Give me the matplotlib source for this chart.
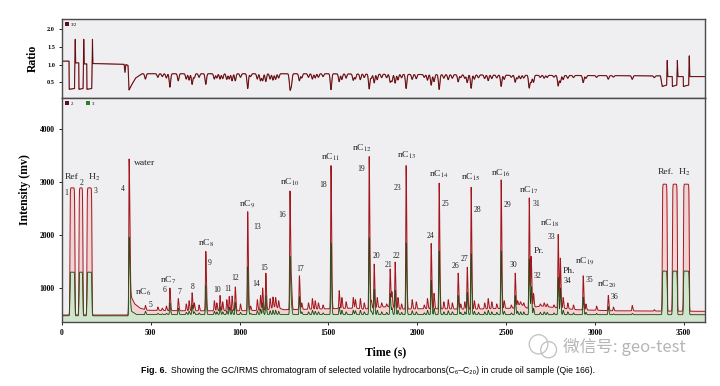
import numpy as np
import matplotlib
matplotlib.use("Agg")
import matplotlib.pyplot as plt
from matplotlib.patches import Patch, Ellipse

plt.rcParams["font.family"] = ["Liberation Serif", "DejaVu Serif"]
plt.rcParams["mathtext.fontset"] = "stix"
plt.rcParams["axes.linewidth"] = 1.0

# reference gas pulses: start/end (s) and plateau heights (mV)
REF_START = [45, 96, 141, 3380, 3437, 3499]
REF_END = [73, 118, 169, 3408, 3465, 3532]
REF_RED = [2890, 2890, 2890, 2960, 2960, 2960]
REF_GREEN = [1300, 1300, 1300, 1320, 1320, 1320]

WATER_TIME = 378
WATER_RED = 3430
WATER_GREEN = 1950

# numbered compound peaks 5..36
PEAK_NUM = [str(n) for n in range(5, 37)]
PEAK_TIME = [470, 608, 655, 733, 810, 890, 942, 976, 1046, 1130, 1148, 1284,
             1337, 1515, 1730, 1758, 1848, 1876, 1938, 2079, 2124, 2231, 2282,
             2304, 2473, 2552, 2631, 2642, 2794, 2806, 2935, 3076]
PEAK_RED = [670, 1000, 800, 910, 1690, 860, 840, 1020, 2440, 1000, 1280, 2830,
            1230, 3310, 3480, 1450, 1360, 1490, 3310, 1840, 2980, 1280, 1390,
            2900, 3040, 1280, 2700, 1580, 2010, 1560, 1230, 860]
PEAK_GREEN = [560, 720, 620, 680, 1050, 650, 640, 730, 1400, 720, 860, 1600,
              840, 1850, 1950, 980, 900, 960, 1850, 1150, 1700, 860, 920,
              1650, 1700, 860, 1550, 1020, 1200, 1000, 830, 650]
PEAK_DIP = [0.15, 0.38, 0.2, 0.3, 0.3, 0.15, 0.15, 0.2, 0.42, 0.2, 0.22, 0.42,
            0.2, 0.45, 0.42, 0.25, 0.22, 0.25, 0.4, 0.3, 0.42, 0.2, 0.22,
            0.38, 0.32, 0.2, 0.36, 0.2, 0.3, 0.2, 0.2, 0.1]

# unlabelled minor peaks
MINOR_TIME = [540, 565, 588, 700, 716, 745, 772, 858, 872, 905,
              928, 958, 1005, 1062, 1100, 1118, 1172, 1188, 1203, 1220,
              1292, 1350, 1388, 1410, 1426, 1444, 1470, 1561, 1576, 1600,
              1640, 1652, 1680, 1702, 1742, 1775, 1800, 1828, 1858, 1892,
              1912, 1972, 1995, 2040, 2058, 2095, 2150, 2175, 2198, 2245,
              2268, 2322, 2345, 2380, 2400, 2420, 2448, 2490, 2530, 2565,
              2582, 2600, 2655, 2693, 2715, 2732, 2770, 2822, 2848, 2880,
              2950, 3010, 3105, 3211, 3335]
MINOR_RED = [640, 620, 660, 700, 760, 720, 680, 760, 720, 740,
             780, 850, 700, 660, 780, 860, 800, 830, 820, 760,
             1050, 720, 720, 800, 760, 720, 680, 950, 820, 740,
             820, 780, 800, 720, 760, 820, 720, 700, 920, 820,
             700, 780, 740, 680, 800, 900, 740, 780, 720, 700,
             740, 760, 700, 720, 800, 740, 700, 760, 680, 760,
             740, 720, 900, 700, 720, 700, 680, 820, 720, 680,
             700, 660, 640, 670, 590]
MINOR_GREEN = [520, 510, 520, 540, 560, 550, 530, 560, 550, 550,
               570, 590, 540, 520, 570, 600, 570, 580, 580, 560,
               680, 550, 550, 580, 560, 550, 530, 640, 580, 550,
               580, 570, 580, 550, 560, 580, 550, 540, 620, 580,
               540, 570, 550, 530, 580, 620, 550, 570, 550, 540,
               550, 560, 540, 550, 580, 550, 540, 560, 530, 560,
               550, 550, 620, 540, 550, 540, 530, 580, 550, 530,
               540, 520, 510, 520, 500]
MINOR_DIP = [0.10, 0.08, 0.12, 0.15, 0.18, 0.12, 0.10, 0.15, 0.12, 0.14,
             0.16, 0.2, 0.1, 0.08, 0.15, 0.2, 0.15, 0.18, 0.16, 0.12,
             0.3, 0.12, 0.1, 0.15, 0.12, 0.1, 0.08, 0.22, 0.16, 0.12,
             0.18, 0.14, 0.16, 0.1, 0.12, 0.16, 0.1, 0.1, 0.2, 0.16,
             0.1, 0.14, 0.12, 0.08, 0.16, 0.2, 0.1, 0.14, 0.1, 0.08,
             0.1, 0.12, 0.08, 0.1, 0.16, 0.1, 0.08, 0.12, 0.06, 0.1,
             0.1, 0.08, 0.2, 0.06, 0.08, 0.06, 0.05, 0.12, 0.08, 0.06,
             0.08, 0.05, 0.04, 0.1, 0.05]

# baselines (mV) and ratio 3/2 level between peaks
RED_BASE_T = [0, 372, 376, 382, 392, 410, 440, 480, 700, 1000, 1150, 1200, 1250,
              1400, 1650, 1700, 1800, 1850, 1900, 2050, 2300, 2550, 2580, 2620,
              2700, 2750, 2900, 3100, 3620]
RED_BASE_V = [490, 490, 700, 1000, 820, 700, 620, 580, 570, 570, 580, 640, 590,
              600, 620, 600, 640, 650, 600, 610, 600, 620, 700, 620,
              660, 640, 590, 570, 560]
GREEN_BASE_T = [0, 372, 380, 392, 420, 3620]
GREEN_BASE_V = [475, 475, 800, 560, 500, 495]
RATIO_T = [0, 40, 41, 71, 73, 75, 77, 95, 96, 119, 121, 123, 125, 140, 141, 168,
           170, 172, 174, 350, 355, 360, 372, 378, 392, 415, 450, 1500, 2500,
           3370, 3380, 3405, 3408, 3411, 3436, 3437, 3462, 3465, 3468, 3498,
           3499, 3529, 3532, 3535, 3620]
RATIO_V = [1.10, 1.10, 0.30, 0.32, 1.0, 1.72, 1.05, 1.05, 0.30, 0.32, 1.0, 1.72,
           1.02, 1.02, 0.30, 0.32, 1.0, 1.72, 1.03, 1.01, 0.78, 1.0, 0.98, 0.28,
           0.42, 0.62, 0.74, 0.74, 0.70, 0.68, 0.38, 0.42, 1.12, 0.66, 0.66,
           0.38, 0.42, 1.12, 0.66, 0.66, 0.38, 0.42, 1.25, 0.66, 0.66]

NAMES = {"5": "nC$_6$", "6": "nC$_7$", "9": "nC$_8$", "13": "nC$_9$",
         "16": "nC$_{10}$", "18": "nC$_{11}$", "19": "nC$_{12}$", "23": "nC$_{13}$",
         "25": "nC$_{14}$", "28": "nC$_{15}$", "29": "nC$_{16}$", "31": "nC$_{17}$",
         "33": "nC$_{18}$", "35": "nC$_{19}$", "36": "nC$_{20}$"}

# label anchors (time, mV)
NUM_POS = {"1": (23, 2790), "2": (113, 2990), "3": (192, 2840), "4": (344, 2860),
           "5": (501, 680), "6": (580, 960), "7": (659, 925), "8": (738, 1020),
           "9": (834, 1480), "10": (873, 960), "11": (935, 980), "12": (975, 1190),
           "13": (1099, 2150), "14": (1093, 1070), "15": (1138, 1370), "16": (1239, 2380),
           "17": (1341, 1350), "18": (1470, 2940), "19": (1685, 3250), "20": (1769, 1600),
           "21": (1837, 1430), "22": (1882, 1600), "23": (1887, 2880), "24": (2073, 1990),
           "25": (2158, 2580), "26": (2214, 1410), "27": (2265, 1540), "28": (2338, 2480),
           "29": (2507, 2560), "30": (2541, 1430), "31": (2670, 2580), "32": (2676, 1220),
           "33": (2755, 1970), "34": (2845, 1130), "35": (2969, 1150), "36": (3110, 830)}
NAME_POS = {"5": (456, 925), "6": (597, 1150), "9": (811, 1840), "13": (1042, 2580),
            "16": (1285, 2990), "18": (1510, 3460), "19": (1690, 3630), "23": (1944, 3500),
            "25": (2124, 3140), "28": (2304, 3090), "29": (2473, 3160), "31": (2631, 2840),
            "33": (2749, 2210), "35": (2946, 1500), "36": (3070, 1060)}
EXTRA_LABELS = [("Ref", 56, 3090), ("H$_2$", 180, 3090), ("Pr.", 2687, 1690),
                ("Ph.", 2856, 1320), ("Ref.", 3397, 3180), ("H$_2$", 3504, 3180)]

RED = "#a3161d"
DARK = "#3a0d10"
GREEN = "#2b7d2b"
PANEL = "#efeef1"

t = np.arange(0, 3620.5, 0.5)


def peak(c, h, sl=2.0, sr=3.5):
    s = np.where(t < c, sl, sr)
    return h * np.exp(-0.5 * ((t - c) / s) ** 2)


def pulse(a, b, h, w=0.8):
    return h * 0.5 * (np.tanh((t - a) / (2 * w)) - np.tanh((t - b) / (2 * w)))


def build(base_t, base_v, ref_h, water_h, heights, minor_h):
    y = np.interp(t, base_t, base_v)
    lvl = lambda c: np.interp(c, base_t, base_v)
    for a, b, h in zip(REF_START, REF_END, ref_h):
        y += pulse(a, b, h - lvl(a))
    y += peak(WATER_TIME, water_h - lvl(WATER_TIME), 1.5, 4.0)
    for c, h in zip(PEAK_TIME + MINOR_TIME, heights + minor_h):
        y += peak(c, max(h - lvl(c), 0))
    return y


red = build(RED_BASE_T, RED_BASE_V, REF_RED, WATER_RED, PEAK_RED, MINOR_RED)
green = build(GREEN_BASE_T, GREEN_BASE_V, REF_GREEN, WATER_GREEN, PEAK_GREEN, MINOR_GREEN)

ratio = np.interp(t, RATIO_T, RATIO_V)
for c, d in zip(PEAK_TIME + MINOR_TIME, PEAK_DIP + MINOR_DIP):
    ratio -= d * np.exp(-0.5 * ((t - c) / 4.0) ** 2)
ratio = np.clip(ratio, 0.22, None)

fig = plt.figure(figsize=(7.2, 3.86), dpi=100)
ax1 = fig.add_axes([0.086, 0.746, 0.893, 0.205])
ax2 = fig.add_axes([0.086, 0.166, 0.893, 0.580])

XMAX = 3620
for ax in (ax1, ax2):
    ax.set_facecolor(PANEL)
    ax.set_xlim(0, XMAX)
    for s in ax.spines.values():
        s.set_color("#4a4a4a")
    ax.tick_params(length=2, width=0.6, labelsize=5.5, pad=3)

# ratio panel
ax1.plot(t, ratio, color="#8a1a1e", lw=0.8)
ax1.plot(t, ratio, color=DARK, lw=0.35, alpha=0.8)
ax1.set_ylim(0.05, 2.3)
ax1.set_yticks([0.5, 1.0, 1.5, 2.0])
ax1.set_yticklabels(["0.5", "1.0", "1.5", "2.0"], fontweight="bold", fontsize=4.5)
ax1.set_xticks([])
ax1.legend(handles=[Patch(facecolor="#5a1020", label="3/2")], loc="upper left",
           fontsize=3.5, frameon=False, handlelength=0.8, handleheight=0.8,
           handletextpad=0.4, borderaxespad=0.3)

# intensity panel
YMIN = 360
ax2.fill_between(t, YMIN, red, color="#f1d3d4", lw=0)
ax2.fill_between(t, YMIN, green, color="#cde8cd", lw=0, alpha=0.9)
ax2.plot(t, red, color=RED, lw=0.7)
ax2.plot(t, green, color=GREEN, lw=0.6)
ax2.plot(t, np.minimum(red, green), color=DARK, lw=0.35, alpha=0.7)
ax2.set_ylim(YMIN, 4585)
ax2.set_yticks([1000, 2000, 3000, 4000])
ax2.set_yticklabels(["1000", "2000", "3000", "4000"], fontweight="bold")
ax2.set_xticks(range(0, 3501, 500))
ax2.set_xticklabels([str(v) for v in range(0, 3501, 500)], fontweight="bold")
ax2.legend(handles=[Patch(facecolor="#5a1020", label="2"),
                    Patch(facecolor=GREEN, label="3")],
           loc="upper left", ncol=2, fontsize=3.5, frameon=False, handlelength=0.8,
           handleheight=0.8, handletextpad=0.4, columnspacing=2.5, borderaxespad=0.3)

for num, (x, y) in NUM_POS.items():
    ax2.text(x, y, num, fontsize=5.5, color="#222222", ha="center", va="center")
for num, (x, y) in NAME_POS.items():
    ax2.text(x, y, NAMES[num], fontsize=6.8, color="#222222", ha="center", va="center")
for txt, x, y in EXTRA_LABELS:
    ax2.text(x, y, txt, fontsize=6.8, color="#222222", ha="center", va="center")
ax2.text(WATER_TIME + 28, 3360, "water", fontsize=6.8, color="#222222", ha="left", va="center")

fig.text(0.046, 0.850, "Ratio", rotation=90, ha="center", va="center",
         fontsize=8.5, fontweight="bold")
fig.text(0.035, 0.508, "Intensity (mv)", rotation=90, ha="center", va="center",
         fontsize=8.5, fontweight="bold")
fig.text(0.535, 0.088, "Time (s)", ha="center", va="center", fontsize=8.5,
         fontweight="bold")

cap_font = ["Liberation Sans Narrow", "Liberation Sans", "DejaVu Sans"]
fig.text(0.232, 0.040, "Fig. 6.", ha="right", va="center", fontsize=6.4,
         fontweight="bold", family=cap_font)
fig.text(0.237, 0.040, "Showing the GC/IRMS chromatogram of selected volatile "
         "hydrocarbons(C\u2086\u2013C\u2082\u2080) in crude oil sample (Qie 166).",
         ha="left", va="center", fontsize=6.2, family=cap_font)

# watermark
fig.text(0.782, 0.101, "微信号: geo-test", ha="left", va="center", fontsize=12,
         color="#b5b5b5", family=["Noto Sans CJK SC", "DejaVu Sans"])
for cx, cy, w, h in [(0.748, 0.108, 0.026, 0.05), (0.762, 0.094, 0.022, 0.042)]:
    fig.add_artist(Ellipse((cx, cy), w, h, transform=fig.transFigure, fill=False,
                           ec="#c0c0c0", lw=0.9))

fig.savefig("out.png", dpi=100)
